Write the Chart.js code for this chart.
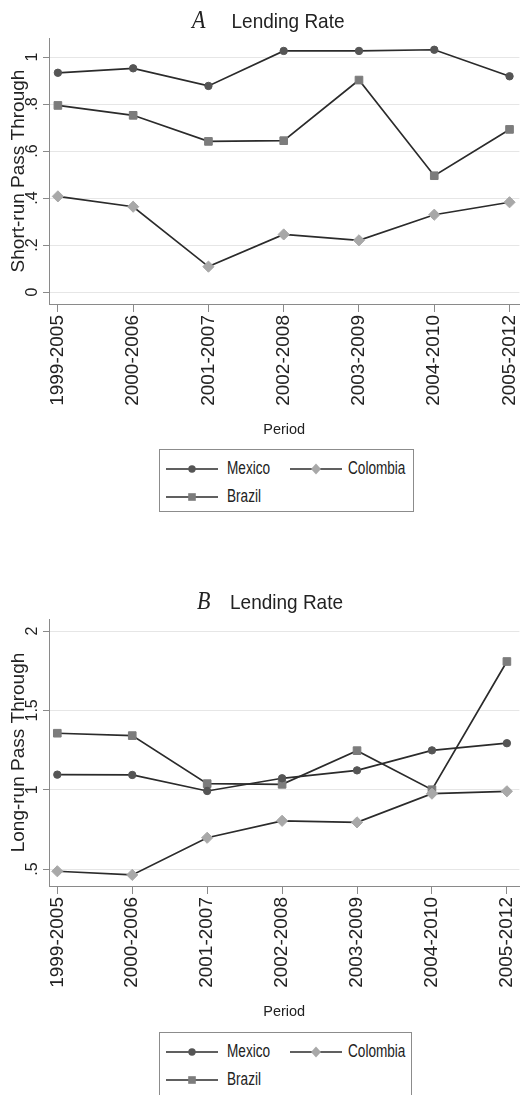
<!DOCTYPE html>
<html>
<head>
<meta charset="utf-8">
<script src="https://cdn.jsdelivr.net/npm/chart.js@4.4.1/dist/chart.umd.min.js"></script>
<style>
  body { margin: 0; background: #fff; }
  #page { position: relative; width: 526px; height: 1095px; overflow: hidden;
          font-family: "Liberation Sans", Arial, sans-serif; color: #222; }
  canvas { position: absolute; left: 0; }
  .t { position: absolute; white-space: nowrap; line-height: 1; transform: scaleY(1.1); }
  .t.letter { font-family: "Liberation Serif", "Times New Roman", serif; font-style: italic; font-size: 22px; transform-origin: 0 18px; }
  .t.name { font-size: 19px; transform-origin: 0 16px; }
  .legend { position: absolute; border: 1px solid #8c8c8c; box-sizing: border-box; }
  .legend svg { position: absolute; }
  .legend span { position: absolute; font-size: 13.6px; line-height: 16px; white-space: nowrap; transform: scaleY(1.3); }
</style>
</head>
<body>
<div id="page">
  <canvas id="chartA" width="526" height="445" style="top:0"></canvas>
  <canvas id="chartB" width="526" height="447" style="top:580px"></canvas>
</div>
<script>
// valores
const periods = ['1999-2005', '2000-2006', '2001-2007', '2002-2008', '2003-2009', '2004-2010', '2005-2012'];

const mexicoShort = [0.933, 0.952, 0.877, 1.026, 1.026, 1.031, 0.918];
const colombiaShort = [0.407, 0.363, 0.108, 0.245, 0.220, 0.329, 0.382];
const brazilShort = [0.794, 0.752, 0.641, 0.644, 0.902, 0.495, 0.692];

const mexicoLong = [1.095, 1.093, 0.992, 1.072, 1.122, 1.248, 1.293];
const colombiaLong = [0.486, 0.463, 0.697, 0.804, 0.794, 0.975, 0.990];
const brazilLong = [1.356, 1.341, 1.038, 1.034, 1.246, 1.000, 1.808];

const shortTicks = [0, 0.2, 0.4, 0.6, 0.8, 1];
const longTicks = [0.5, 1, 1.5, 2];

const FONT = '"Liberation Sans", Arial, sans-serif';
const LINE = '#2b2b2b';
const AXIS = '#8a8a8a';

const countries = [
    { name: 'Mexico', style: 'circle', radius: 3.7, color: '#555555' },
    { name: 'Colombia', style: 'rectRot', radius: 5.6, color: '#a8a8a8' },
    { name: 'Brazil', style: 'rect', radius: 5.4, color: '#7c7c7c' }
];

function stataLabel(v) {
    const s = String(Math.round(v * 10) / 10);
    return s.replace(/^0\./, '.');
}

/**
 * Dibuja un panel con las tres series.
 */
function createPanel(canvasId, values, cfg) {
    const ctx = document.getElementById(canvasId).getContext('2d');

    return new Chart(ctx, {
        type: 'line',
        data: {
            datasets: countries.map((c, k) => ({
                label: c.name,
                data: values[k].map((v, i) => ({ x: i, y: v })),
                borderColor: LINE,
                borderWidth: 1.7,
                tension: 0,
                fill: false,
                pointStyle: c.style,
                pointRadius: c.radius,
                pointBackgroundColor: c.color,
                pointBorderColor: c.color,
                pointBorderWidth: 1
            }))
        },
        options: {
            responsive: false,
            animation: false,
            events: [],
            devicePixelRatio: 1,
            layout: { padding: { top: cfg.padTop, right: 0, bottom: 1, left: 0 } },
            plugins: {
                legend: { display: false },
                tooltip: { enabled: false },
                title: { display: false }
            },
            scales: {
                x: {
                    type: 'linear',
                    min: cfg.xMin,
                    max: cfg.xMax,
                    afterBuildTicks: sc => { sc.ticks = periods.map((p, i) => ({ value: i })); },
                    afterFit: sc => { sc.height = 140; sc.paddingLeft = 0; sc.paddingRight = 0; },
                    ticks: {
                        autoSkip: false,
                        minRotation: 90,
                        maxRotation: 90,
                        padding: 3,
                        color: '#222',
                        font: { family: FONT, size: 19 },
                        callback: v => periods[v]
                    },
                    grid: { drawOnChartArea: false, drawTicks: true, tickLength: 8, tickColor: AXIS, tickWidth: 1 },
                    border: { display: true, color: AXIS, width: 1 },
                    title: {
                        display: true,
                        text: 'Period',
                        color: '#222',
                        font: { family: FONT, size: 14.5 },
                        padding: { top: 0, bottom: 5.3 }
                    }
                },
                y: {
                    type: 'linear',
                    min: cfg.yMin,
                    max: cfg.yMax,
                    afterBuildTicks: sc => { sc.ticks = cfg.yTicks.map(v => ({ value: v })); },
                    afterFit: sc => { sc.width = 49; },
                    ticks: {
                        minRotation: 90,
                        maxRotation: 90,
                        crossAlign: 'center',
                        padding: cfg.tickPad,
                        color: '#222',
                        font: { family: FONT, size: 16 },
                        callback: v => stataLabel(v)
                    },
                    grid: { color: '#e6e6e6', lineWidth: 1, drawTicks: true, tickLength: 6, tickColor: AXIS },
                    border: { display: true, color: AXIS, width: 1 },
                    title: {
                        display: true,
                        text: cfg.yTitle,
                        color: '#222',
                        font: { family: FONT, size: 19 },
                        padding: { top: 7.6, bottom: 0 }
                    }
                }
            }
        }
    });
}

// titulo y leyenda en HTML
function addTitle(letter, top, letterLeft, textLeft) {
    const page = document.getElementById('page');
    const a = document.createElement('span');
    a.className = 't letter';
    a.textContent = letter;
    a.style.left = letterLeft + 'px';
    a.style.top = (top - 18.4) + 'px';
    const b = document.createElement('span');
    b.className = 't name';
    b.textContent = 'Lending Rate';
    b.style.left = textLeft + 'px';
    b.style.top = (top - 16.1) + 'px';
    page.appendChild(a);
    page.appendChild(b);
}

function iconSvg(c) {
    let marker = '';
    if (c.style === 'circle') {
        marker = `<circle cx="26" cy="7" r="3.7" fill="${c.color}"/>`;
    } else if (c.style === 'rectRot') {
        marker = `<polygon points="26,1.4 31,7 26,12.6 21,7" fill="${c.color}"/>`;
    } else {
        marker = `<rect x="22.2" y="3.2" width="7.6" height="7.6" fill="${c.color}"/>`;
    }
    return `<svg width="52" height="14" viewBox="0 0 52 14"><line x1="0" y1="7" x2="52" y2="7" stroke="${LINE}" stroke-width="1.7"/>${marker}</svg>`;
}

function addLegend(left, top, width, height, rows) {
    const box = document.createElement('div');
    box.className = 'legend';
    box.style.left = left + 'px';
    box.style.top = top + 'px';
    box.style.width = width + 'px';
    box.style.height = height + 'px';
    const slots = [
        { c: countries[0], ix: 166, tx: 227, y: rows[0] },
        { c: countries[1], ix: 290, tx: 348, y: rows[0] },
        { c: countries[2], ix: 166, tx: 227, y: rows[1] }
    ];
    slots.forEach(s => {
        const wrap = document.createElement('div');
        wrap.innerHTML = iconSvg(s.c);
        const svg = wrap.firstChild;
        svg.style.left = (s.ix - left - 1) + 'px';
        svg.style.top = (s.y - 7 - top - 1) + 'px';
        box.appendChild(svg);
        const t = document.createElement('span');
        t.textContent = s.c.name;
        t.style.left = (s.tx - left - 1) + 'px';
        t.style.top = (s.y - 8 - top - 1) + 'px';
        box.appendChild(t);
    });
    document.getElementById('page').appendChild(box);
}

createPanel('chartA', [mexicoShort, colombiaShort, brazilShort], {
    padTop: 38, xMin: -0.118, xMax: 6.131,
    yMin: -0.051, yMax: 1.081, yTicks: shortTicks, tickPad: 3.3,
    yTitle: 'Short-run Pass Through'
});

createPanel('chartB', [mexicoLong, colombiaLong, brazilLong], {
    padTop: 39, xMin: -0.111, xMax: 6.167,
    yMin: 0.393, yMax: 2.076, yTicks: longTicks, tickPad: -1.1,
    yTitle: 'Long-run Pass Through'
});

addTitle('A', 28.5, 192, 231.5);
addTitle('B', 609.5, 197, 230);
addLegend(159, 449, 255, 63, [469, 497]);
addLegend(159, 1032, 253, 64, [1052, 1080]);
</script>
</body>
</html>
